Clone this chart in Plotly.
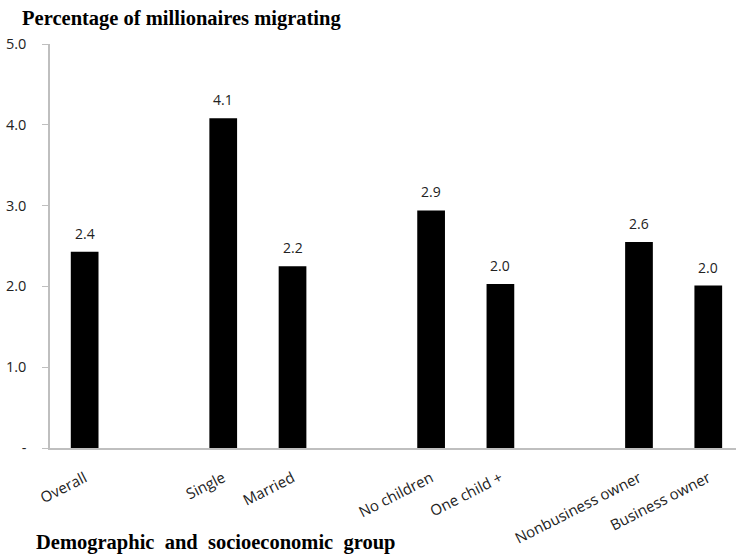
import plotly.graph_objects as go

categories = ["Overall", " ", "Single", "Married", "  ", "No children", "One child +",
              "   ", "Nonbusiness owner", "Business owner"]
values = [2.43, None, 4.08, 2.25, None, 2.94, 2.03, None, 2.55, 2.01]
value_labels = ["2.4", "", "4.1", "2.2", "", "2.9", "2.0", "", "2.6", "2.0"]
y_tickvals = [0, 1, 2, 3, 4, 5]
y_ticktext = ["-", "1.0", "2.0", "3.0", "4.0", "5.0"]

sans = "Open Sans, Liberation Sans, Arial, sans-serif"
serif = "Liberation Serif, Times New Roman, serif"

fig = go.Figure()
fig.add_trace(go.Bar(x=categories, y=values, marker=dict(color="black", line=dict(width=0)),
                     hoverinfo="skip"))

for c, v, t in zip(categories, values, value_labels):
    if v is not None:
        fig.add_annotation(x=c, y=v, text=t, showarrow=False, yanchor="bottom",
                           yshift=7, font=dict(family=sans, size=14, color="#222222"))

fig.add_annotation(xref="paper", yref="paper", x=-0.023, y=-0.235, xanchor="left",
                   yanchor="middle", showarrow=False,
                   text="<b>Demographic&nbsp;&nbsp;and&nbsp;&nbsp;socioeconomic&nbsp;&nbsp;group</b>",
                   font=dict(family=serif, size=20.5, color="black"))

fig.update_layout(
    width=736, height=558,
    margin=dict(l=50, r=0, t=44, b=110),
    paper_bgcolor="white", plot_bgcolor="white",
    showlegend=False, bargap=0.6,
    title=dict(text="<b>Percentage of millionaires migrating</b>", x=0.03, xanchor="left",
               y=1 - 18 / 558, yanchor="middle",
               font=dict(family=serif, size=20.5, color="black")),
    xaxis=dict(type="category", categoryorder="array", categoryarray=categories,
               range=[-0.5, 9.4], showline=True, linecolor="#BFBFBF", linewidth=1.5,
               ticks="", tickangle=-27, showgrid=False, ticklabelstandoff=14,
               tickfont=dict(family=sans, size=15, color="#222222")),
    yaxis=dict(range=[0, 5], tickvals=y_tickvals, ticktext=y_ticktext, showline=True,
               linecolor="#BFBFBF", linewidth=1.5, ticks="outside", ticklen=6,
               tickcolor="#BFBFBF", showgrid=False, zeroline=False, ticklabelstandoff=13,
               tickfont=dict(family=sans, size=14.5, color="#222222")),
)

fig.write_html("out.html")
